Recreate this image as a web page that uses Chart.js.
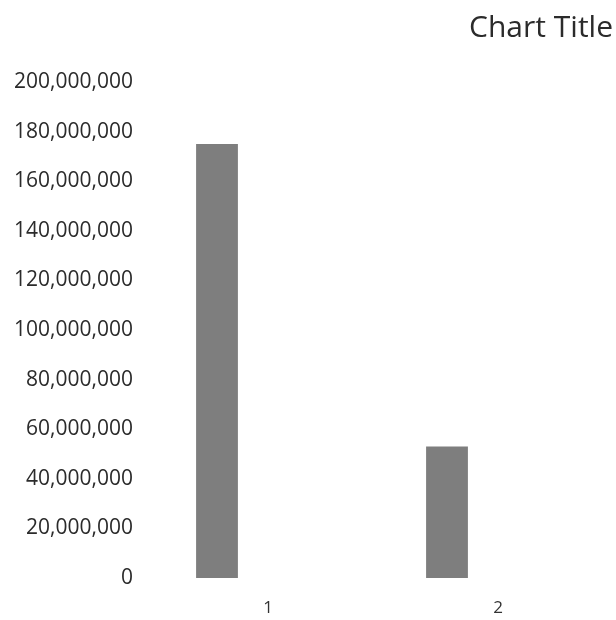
<!DOCTYPE html>
<html>
<head>
<meta charset="utf-8">
<script src="https://cdn.jsdelivr.net/npm/chart.js@4"></script>
<style>
  html, body { margin: 0; padding: 0; background: #fff; }
  #wrap { width: 616px; height: 620px; }
</style>
</head>
<body>
<div id="wrap"><canvas id="chart" width="616" height="620"></canvas></div>
<script>
// valeurs
const categories = ['1', '2'];
const serie1 = [175000000, 53000000];
const serie2 = [null, null]; // deuxième série vide (décale les barres à gauche)
const yTicks = [0, 20000000, 40000000, 60000000, 80000000, 100000000,
                120000000, 140000000, 160000000, 180000000, 200000000];

const ctx = document.getElementById('chart').getContext('2d');
new Chart(ctx, {
    type: 'bar',
    data: {
        labels: categories,
        datasets: [{
            label: 'Series1',
            data: serie1,
            backgroundColor: '#7e7e7e',
            borderWidth: 0
        },
        {
            label: 'Series2',
            data: serie2,
            backgroundColor: '#7e7e7e',
            borderWidth: 0
        }]
    },
    options: {
        responsive: false,
        animation: false,
        categoryPercentage: 0.887,
        barPercentage: 0.41,
        layout: { padding: { left: 0, right: 3, top: 0, bottom: 0 } },
        plugins: {
            legend: { display: false },
            tooltip: { enabled: false },
            title: {
                display: true,
                text: 'Chart Title',
                align: 'end',
                color: '#2b2b2b',
                font: { family: 'Open Sans', size: 30, weight: 'normal' },
                padding: { top: 10, bottom: 36 }
            }
        },
        scales: {
            x: {
                afterFit: scale => { scale.height = 42; },
                grid: { display: false, drawTicks: false },
                border: { display: false },
                ticks: {
                    color: '#333',
                    padding: 20,
                    font: { family: 'Open Sans', size: 17 }
                }
            },
            y: {
                min: 0,
                max: 200000000,
                afterBuildTicks: scale => { scale.ticks = yTicks.map(v => ({ value: v })); },
                afterFit: scale => { scale.width = 153; },
                grid: { display: false, drawTicks: false },
                border: { display: false },
                ticks: {
                    color: '#2b2b2b',
                    padding: 20,
                    font: { family: 'Open Sans', size: 21 },
                    callback: v => v.toLocaleString('en-US')
                }
            }
        }
    }
});
</script>
</body>
</html>
